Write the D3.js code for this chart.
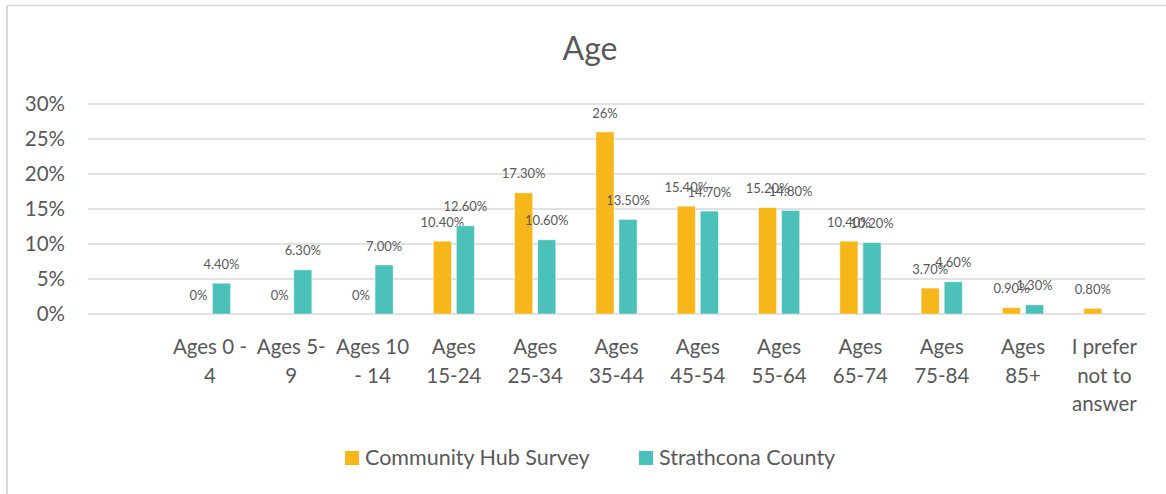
<!DOCTYPE html>
<html>
<head>
<meta charset="utf-8">
<script src="https://cdn.jsdelivr.net/npm/d3@7"></script>
<style>
  body { margin: 0; background: #fff; }
  svg text { font-family: Lato, "Open Sans", sans-serif; fill: #595959; }
</style>
</head>
<body>
<div id="chart"></div>
<script>
let width = 1166;
let height = 494;
let margin = ({top: 104, right: 21, bottom: 180, left: 88});

// Categories (first one is blank in the source sheet), "\n" marks the wrapped lines
let categories = ["", "Ages 0 -\n4", "Ages 5-\n9", "Ages 10\n- 14", "Ages\n15-24", "Ages\n25-34", "Ages\n35-44",
    "Ages\n45-54", "Ages\n55-64", "Ages\n65-74", "Ages\n75-84", "Ages\n85+", "I prefer\nnot to\nanswer"];

let hubValues = [null, 0, 0, 0, 10.4, 17.3, 26, 15.4, 15.2, 10.4, 3.7, 0.9, 0.8];
let hubLabels = ["", "0%", "0%", "0%", "10.40%", "17.30%", "26%", "15.40%", "15.20%", "10.40%", "3.70%", "0.90%", "0.80%"];

let countyValues = [null, 4.4, 6.3, 7.0, 12.6, 10.6, 13.5, 14.7, 14.8, 10.2, 4.6, 1.3, null];
let countyLabels = ["", "4.40%", "6.30%", "7.00%", "12.60%", "10.60%", "13.50%", "14.70%", "14.80%", "10.20%", "4.60%", "1.30%", ""];

let yTicks = [0, 5, 10, 15, 20, 25, 30];

let series = [
    {name: "Community Hub Survey", values: hubValues, labels: hubLabels, color: "#F7B619"},
    {name: "Strathcona County", values: countyValues, labels: countyLabels, color: "#4CC1BA"}
];

let svg = d3.select("#chart")
    .append("svg")
    .attr("width", width)
    .attr("height", height);

// chart area border (left and top only, as in the picture)
svg.append("line").attr("x1", 7).attr("x2", 7).attr("y1", 5).attr("y2", height)
    .attr("stroke", "#d9d9d9").attr("stroke-width", 2);
svg.append("line").attr("x1", 7).attr("x2", width).attr("y1", 5.5).attr("y2", 5.5)
    .attr("stroke", "#d9d9d9").attr("stroke-width", 1.5);

let xScale = d3.scaleBand()
    .domain(d3.range(categories.length))
    .range([margin.left, width - margin.right]);

let yScale = d3.scaleLinear()
    .domain([0, 30])
    .range([height - margin.bottom, margin.top]);

let barWidth = xScale.bandwidth() * 0.222;
let barGap = 5;

// Title
svg.append("text")
    .attr("x", 590)
    .attr("y", 60)
    .attr("text-anchor", "middle")
    .style("font-size", "32px")
    .text("Age");

// Gridlines
svg.append("g")
    .selectAll("line")
    .data(yTicks)
    .enter()
    .append("line")
    .attr("x1", margin.left)
    .attr("x2", width - margin.right)
    .attr("y1", d => yScale(d))
    .attr("y2", d => yScale(d))
    .attr("stroke", "#d9d9d9")
    .attr("stroke-width", 1.4);

// Y axis labels
let yAxis = d3.axisLeft(yScale)
    .tickValues(yTicks)
    .tickSize(0)
    .tickPadding(0)
    .tickFormat(d => d + "%");

let yG = svg.append("g")
    .attr("transform", "translate(65,0)")
    .call(yAxis);
yG.select(".domain").remove();
yG.selectAll("text")
    .style("font-size", "20.5px")
    .style("font-family", "Lato, sans-serif")
    .attr("fill", "#595959");

// Bars and data labels
series.forEach(function (s, si) {
    let offset = si === 0 ? -barGap / 2 - barWidth : barGap / 2;
    let pts = s.values.map((v, i) => ({i: i, v: v, label: s.labels[i]})).filter(d => d.v !== null);

    let g = svg.append("g");

    g.selectAll("rect")
        .data(pts)
        .enter()
        .append("rect")
        .attr("x", d => xScale(d.i) + xScale.bandwidth() / 2 + offset)
        .attr("y", d => yScale(d.v))
        .attr("width", barWidth)
        .attr("height", d => yScale(0) - yScale(d.v))
        .attr("fill", s.color)
        .attr("stroke", "#ffffff")
        .attr("stroke-opacity", 0.5)
        .attr("stroke-width", 0.8);

    g.selectAll("text")
        .data(pts)
        .enter()
        .append("text")
        .attr("x", d => xScale(d.i) + xScale.bandwidth() / 2 + offset + barWidth / 2)
        .attr("y", d => yScale(d.v) - 19)
        .attr("dy", "0.35em")
        .attr("text-anchor", "middle")
        .style("font-size", "13px")
        .text(d => d.label);
});

// Category labels
let catG = svg.append("g");
categories.forEach(function (c, i) {
    let t = catG.append("text")
        .attr("x", xScale(i) + xScale.bandwidth() / 2)
        .attr("y", 354)
        .attr("text-anchor", "middle")
        .style("font-size", "20.5px");
    c.split("\n").forEach(function (line, li) {
        t.append("tspan")
            .attr("x", xScale(i) + xScale.bandwidth() / 2)
            .attr("dy", li === 0 ? 0 : 28.5)
            .text(line);
    });
});

// Legend
let legendPos = [345, 639];
series.forEach(function (s, si) {
    svg.append("rect")
        .attr("x", legendPos[si])
        .attr("y", 451)
        .attr("width", 14)
        .attr("height", 14)
        .attr("fill", s.color);
    svg.append("text")
        .attr("x", legendPos[si] + 20)
        .attr("y", 465)
        .style("font-size", "21.5px")
        .text(s.name);
});
</script>
</body>
</html>
